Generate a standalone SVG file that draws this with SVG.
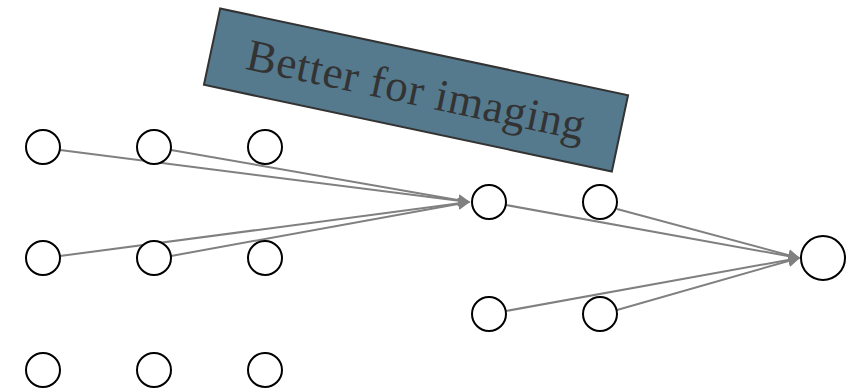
<svg xmlns="http://www.w3.org/2000/svg" width="859" height="390" viewBox="0 0 859 390">
<defs>
<style>
.n{fill:#fff;stroke:#000;stroke-width:2}
.e{stroke:#808080;stroke-width:2;fill:none}
.lbl{font-family:"Liberation Serif","DejaVu Serif",serif;font-size:45px;fill:#333}
</style>
<marker id="ah" viewBox="0 0 10 10" refX="9" refY="5" markerWidth="6" markerHeight="6" orient="auto" markerUnits="strokeWidth">
<path d="M0,0 L10,5 L0,10 z" fill="#808080"/>
</marker>
</defs>
<rect width="859" height="390" fill="#fff"/>
<g id="edges">
<line class="e" x1="60" y1="150" x2="469" y2="202" marker-end="url(#ah)"/>
<line class="e" x1="171" y1="150" x2="469" y2="202" marker-end="url(#ah)"/>
<line class="e" x1="60" y1="256" x2="469" y2="202" marker-end="url(#ah)"/>
<line class="e" x1="171" y1="256" x2="469" y2="202" marker-end="url(#ah)"/>
<line class="e" x1="506" y1="205" x2="799" y2="258" marker-end="url(#ah)"/>
<line class="e" x1="617" y1="209" x2="799" y2="258" marker-end="url(#ah)"/>
<line class="e" x1="506" y1="311" x2="799" y2="258" marker-end="url(#ah)"/>
<line class="e" x1="617" y1="310" x2="799" y2="258" marker-end="url(#ah)"/>
</g>
<g id="n11"><circle class="n" cx="43" cy="147" r="17"/></g>
<g id="n12"><circle class="n" cx="154" cy="147" r="17"/></g>
<g id="n13"><circle class="n" cx="265" cy="147" r="17"/></g>
<g id="n21"><circle class="n" cx="43" cy="258" r="17"/></g>
<g id="n22"><circle class="n" cx="154" cy="258" r="17"/></g>
<g id="n23"><circle class="n" cx="265" cy="258" r="17"/></g>
<g id="n31"><circle class="n" cx="43" cy="370" r="17"/></g>
<g id="n32"><circle class="n" cx="154" cy="370" r="17"/></g>
<g id="n33"><circle class="n" cx="265" cy="370" r="17"/></g>
<g id="m1"><circle class="n" cx="489" cy="202" r="17"/></g>
<g id="m2"><circle class="n" cx="600" cy="202" r="17"/></g>
<g id="m3"><circle class="n" cx="489" cy="314" r="17"/></g>
<g id="m4"><circle class="n" cx="600" cy="314" r="17"/></g>
<g id="out"><circle class="n" cx="823" cy="258" r="22"/></g>
<g id="label" transform="translate(416,90) rotate(12)">
<rect x="-208.5" y="-39" width="417" height="78" fill="#557A8E" stroke="#333" stroke-width="2"/>
<text class="lbl" x="0" y="15" text-anchor="middle" textLength="345" lengthAdjust="spacing">Better for imaging</text>
</g>
</svg>
